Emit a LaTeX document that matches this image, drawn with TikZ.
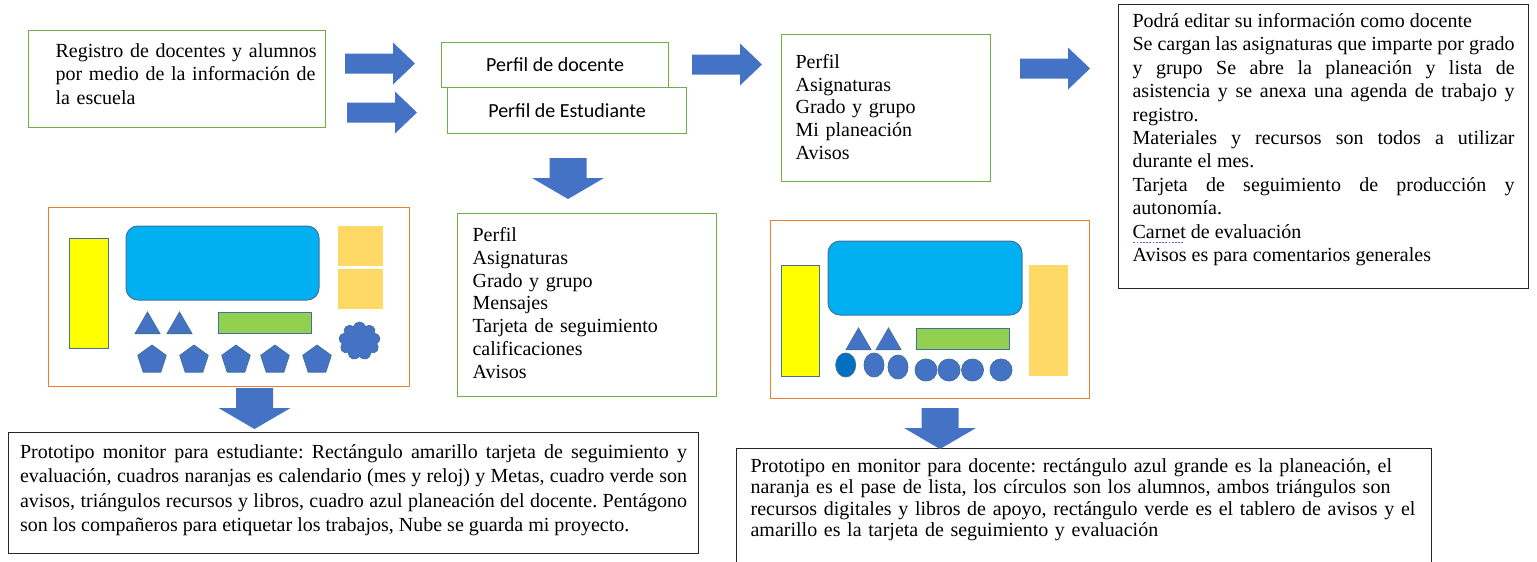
\documentclass[tikz,border=0pt]{standalone}
\usepackage{fontspec}
\setmainfont{Liberation Serif}
\newfontfamily\calfont{Carlito}
\usetikzlibrary{shapes.geometric,shapes.symbols}
\setlength{\parindent}{0pt}
\frenchspacing
\definecolor{arrowblue}{HTML}{4472C4}
\definecolor{framegreen}{HTML}{70AD47}
\definecolor{frameorange}{HTML}{ED7D31}
\definecolor{shapeedge}{HTML}{41719C}
\definecolor{screenblue}{HTML}{00B0F0}
\definecolor{cardyellow}{HTML}{FFFF00}
\definecolor{gold}{HTML}{FFD966}
\definecolor{boardgreen}{HTML}{92D050}
\definecolor{darkdot}{HTML}{0070C0}
\definecolor{spellblue}{HTML}{6A5ACD}
\newcommand{\lowend}[1]{\rule[-#1]{0pt}{0pt}}
\newcommand{\dotmark}[1]{\leavevmode\setbox0\hbox{#1}\rlap{\color{spellblue}\raisebox{-2.6pt}{\hbox to \wd0{\leaders\hbox to 1.6pt{\hss\rule{0.9pt}{0.5pt}\hss}\hfill}}}\box0\relax}
\tikzset{
  panel/.style={draw, line width=0.6pt, fill=white, inner sep=0pt, anchor=north west},
  greenpanel/.style={panel, draw=framegreen},
  blackpanel/.style={panel, draw=black!85},
  monitor/.style={draw=frameorange, line width=0.6pt, inner sep=0pt, anchor=north west},
  figedge/.style={draw=shapeedge, line width=0.5pt},
  figure/.style={fill=arrowblue, draw=shapeedge, line width=0.4pt, inner sep=0pt},
  pentagonfig/.style={figure, regular polygon, regular polygon sides=5, minimum size=15pt},
  trianglefig/.style={figure, regular polygon, regular polygon sides=3, minimum size=14.4pt},
  dotfig/.style={figure, ellipse, minimum width=10pt, minimum height=12pt},
  roundfig/.style={figure, circle, minimum size=11pt},
  cloudfig/.style={figure, cloud, cloud puffs=9, cloud ignores aspect, minimum width=20.5pt, minimum height=19pt},
  rarrow/.pic={\fill[arrowblue] (0,-10) -- (48,-10) -- (48,-21) -- (70,0) -- (48,21) -- (48,10) -- (0,10) -- cycle;},
  darrow/.pic={\fill[arrowblue] (-18.5,0) -- (18.5,0) -- (18.5,20) -- (36,20) -- (0,41) -- (-36,20) -- (-18.5,20) -- cycle;}
}
\begin{document}
\begin{tikzpicture}[x=0.5pt, y=-0.5pt]
          \useasboundingbox (0,0) rectangle (1537,562);
          \node[greenpanel, minimum width=148.5pt, minimum height=48.5pt, text width=121.5pt, inner xsep=13.5pt, align=left, font=\fontsize{10}{11.75}\selectfont] (registro) at (28,30) {\mbox{Registro de docentes y alumnos}\\ \mbox{por medio de la información de}\\ la escuela\lowend{5.3pt}};
          \node[greenpanel, minimum width=113.5pt, minimum height=22.5pt, font=\calfont\fontsize{10}{12}\selectfont] (docente) at (441,42) {Perfil de docente};
          \node[greenpanel, minimum width=119.5pt, minimum height=23pt, font=\calfont\fontsize{10}{12}\selectfont] (estudiante) at (447,87) {Perfil de Estudiante};
          \node[greenpanel, minimum width=104.5pt, minimum height=73.5pt, text width=90.5pt, inner xsep=7pt, align=left, font=\fontsize{10}{11.4}\selectfont] (menudocente) at (781,34) {Perfil\\ Asignaturas\\ Grado y grupo\\ Mi planeación\\ Avisos\lowend{1.3pt}};
          \node[blackpanel, minimum width=205pt, minimum height=142pt, text width=191pt, inner xsep=7pt, align=justify, font=\fontsize{10}{11.7}\selectfont] (detalle) at (1118,4) {Podrá editar su información como docente\par
            Se cargan las asignaturas que imparte por grado\linebreak y grupo Se abre la planeación y lista de\linebreak asistencia y se anexa una agenda de trabajo y\linebreak registro.\par
            Materiales y recursos son todos a utilizar\linebreak durante el mes.\par
            Tarjeta de seguimiento de producción y\linebreak autonomía.\par
            \dotmark{Carnet} de evaluación\par
            Avisos es para comentarios generales\lowend{9.2pt}};
          \node[greenpanel, minimum width=129.5pt, minimum height=91.5pt, text width=114.5pt, inner xsep=7.5pt, align=left, font=\fontsize{10}{11.4}\selectfont] (menualumno) at (457,213) {Perfil\\ Asignaturas\\ Grado y grupo\\ Mensajes\\ Tarjeta de seguimiento\\ calificaciones\\ Avisos\lowend{2.3pt}};
          \node[blackpanel, minimum width=345pt, minimum height=60.5pt, text width=333.5pt, inner xsep=5.75pt, align=justify, font=\fontsize{10}{12.15}\selectfont] (notaalumno) at (8,432) {Prototipo monitor para estudiante: Rectángulo amarillo tarjeta de seguimiento y\linebreak evaluación, cuadros naranjas es calendario (mes y reloj) y Metas, cuadro verde son\linebreak avisos, triángulos recursos y libros, cuadro azul planeación del docente. Pentágono\linebreak son los compañeros para etiquetar los trabajos, Nube se guarda mi proyecto.\lowend{5.2pt}};
          \node[blackpanel, minimum width=347.5pt, text width=333.5pt, inner xsep=7pt, inner ysep=4.9pt, align=left, font=\fontsize{10}{10.75}\selectfont] (notadocente) at (736,448) {Prototipo en monitor para docente: rectángulo azul grande es la planeación, el\\ naranja es el pase de lista, los círculos son los alumnos, ambos triángulos son\\ recursos digitales y libros de apoyo, rectángulo verde es el tablero de avisos y el\\ amarillo es la tarjeta de seguimiento y evaluación\lowend{40pt}};
          \pic at (345,63.5) {rarrow};
          \pic at (347,112.5) {rarrow};
          \pic at (692,64.5) {rarrow};
          \pic at (1020,68.5) {rarrow};
          \pic at (568,158) {darrow};
          \pic at (254.5,388) {darrow};
          \pic at (940,408) {darrow};
          \node[monitor, minimum width=180.5pt, minimum height=89.5pt] (pantallaalumno) at (48,207) {};
          \draw[figedge, fill=cardyellow] (69,238) rectangle (108,348);
          \draw[figedge, fill=screenblue, rounded corners=6pt] (126,226) rectangle (319,300);
          \fill[gold] (338,226) rectangle (383,266);
          \fill[gold] (338,269) rectangle (383,309);
          \draw[figedge, fill=boardgreen] (218,312) rectangle (311,333);
          \node[trianglefig] (libroa1) at (147.5,326.4) {};
          \node[trianglefig] (libroa2) at (179.5,326.4) {};
          \foreach \x [count=\i] in {152,194,236,275,317}
            \node[pentagonfig] (companero\i) at (\x,360) {};
          \node[cloudfig] (nube) at (359.5,341) {};
          \node[monitor, minimum width=159.5pt, minimum height=89pt] (pantalladocente) at (770,220) {};
          \draw[figedge, fill=cardyellow] (781,265) rectangle (819,376);
          \draw[figedge, fill=screenblue, rounded corners=6pt] (828,241) rectangle (1022,315);
          \fill[gold] (1029,265) rectangle (1068,376);
          \draw[figedge, fill=boardgreen] (916,328) rectangle (1009,349);
          \node[trianglefig] (librod1) at (858.5,342.4) {};
          \node[trianglefig] (librod2) at (888.5,342.4) {};
          \node[dotfig, fill=darkdot] (alumno1) at (845.7,365) {};
          \node[dotfig] (alumno2) at (874,365) {};
          \node[dotfig] (alumno3) at (898,367) {};
          \foreach \x [count=\i from 4] in {926,949,972.5,1001}
            \node[roundfig] (alumno\i) at (\x,370) {};
\end{tikzpicture}
\end{document}
